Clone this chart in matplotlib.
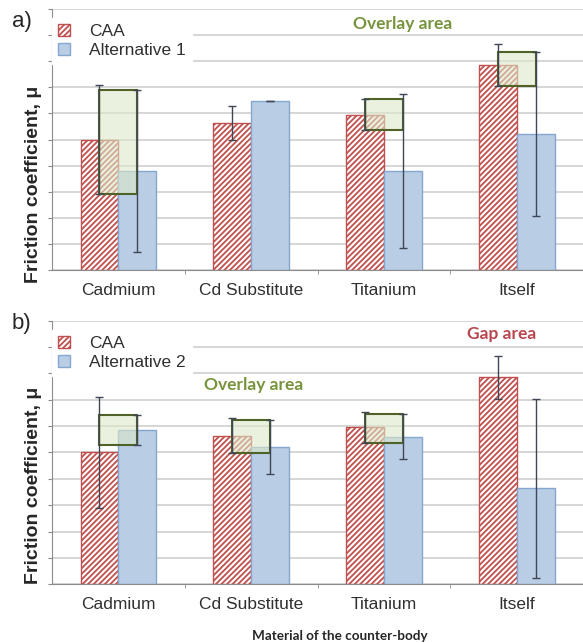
import matplotlib
matplotlib.use('Agg')
import matplotlib.pyplot as plt
import numpy as np
from matplotlib.patches import Rectangle

plt.rcParams['font.family'] = ['Liberation Sans', 'DejaVu Sans']
plt.rcParams['hatch.linewidth'] = 1.3

# data (grid units)
categories = ['Cadmium', 'Cd Substitute', 'Titanium', 'Itself']
caa_mean = [5.0, 5.64, 5.95, 7.85]
caa_err = [2.1, 0.65, 0.6, 0.81]
alt1_mean = [3.8, 6.47, 3.8, 5.2]
alt1_err = [3.1, 0.0, 2.95, 3.14]
alt2_mean = [5.85, 5.2, 5.6, 3.64]
alt2_err = [0.58, 1.03, 0.85, 3.4]

RED = '#c0504d'
BLUE_FACE = '#b9cde5'
BLUE_EDGE = '#85a6d0'
ERR = '#3f4756'
GRID = '#cfcfcf'
AXIS = '#8c8c8c'
W = 0.285


def draw_panel(ax, alt_mean, alt_err, alt_label):
    x = np.arange(len(categories))
    ax.bar(x - W / 2, caa_mean, W, facecolor='white', edgecolor=RED,
           hatch='//////', linewidth=1.0, label='CAA', zorder=2)
    ax.bar(x + W / 2, alt_mean, W, facecolor=BLUE_FACE, edgecolor=BLUE_EDGE,
           linewidth=1.0, label=alt_label, zorder=2)

    # overlay box between the two error ranges
    for i in range(len(categories)):
        lo = max(caa_mean[i] - caa_err[i], alt_mean[i] - alt_err[i])
        hi = min(caa_mean[i] + caa_err[i], alt_mean[i] + alt_err[i])
        if hi - lo > 0.05:
            ax.add_patch(Rectangle((x[i] - W / 2, lo), W, hi - lo,
                                   facecolor='#dde8c8', alpha=0.6,
                                   edgecolor='none', zorder=3))
            ax.add_patch(Rectangle((x[i] - W / 2, lo), W, hi - lo,
                                   facecolor='none', edgecolor='#4f6228',
                                   linewidth=1.5, zorder=4))

    ax.errorbar(x - W / 2, caa_mean, yerr=caa_err, fmt='none', ecolor=ERR,
                elinewidth=1.0, capsize=3, capthick=1.0, zorder=5)
    ax.errorbar(x + W / 2, alt_mean, yerr=alt_err, fmt='none', ecolor=ERR,
                elinewidth=1.0, capsize=3, capthick=1.0, zorder=5)

    ax.set_xlim(-0.5, 3.5)
    ax.set_ylim(0, 10)
    ax.set_yticks(np.arange(0, 11, 1))
    ax.set_yticklabels([])
    ax.grid(axis='y', color=GRID, linewidth=1.2, zorder=0)
    ax.set_axisbelow(True)
    ax.set_xticks(x)
    ax.set_xticklabels(categories, fontsize=12.5, color='#303030')
    ax.set_xticks([0.5, 1.5, 2.5], minor=True)
    ax.tick_params(axis='x', which='major', length=0, pad=9)
    ax.tick_params(axis='x', which='minor', length=3, color=AXIS)
    ax.tick_params(axis='y', length=3, color=AXIS)
    for s in ['top', 'right']:
        ax.spines[s].set_visible(False)
    for s in ['left', 'bottom']:
        ax.spines[s].set_color(AXIS)
    ax.set_ylabel('Friction coefficient, \u03bc', fontsize=14,
                  fontweight='bold', color='#262626')

    leg = ax.legend(loc='upper left', bbox_to_anchor=(0.0, 0.965),
                    fontsize=12.5, frameon=True, fancybox=False,
                    handlelength=0.7, handleheight=0.7, handletextpad=1.1,
                    borderpad=0.35, labelspacing=0.2, borderaxespad=0.0)
    leg.get_frame().set_edgecolor('white')
    leg.get_frame().set_facecolor('white')
    leg.get_frame().set_alpha(1.0)
    leg.set_zorder(6)
    for t in leg.get_texts():
        t.set_color('#303030')
    return ax


fig = plt.figure(figsize=(5.83, 6.43), dpi=100)
ax1 = fig.add_axes([0.0892, 0.580, 0.911, 0.406])
ax2 = fig.add_axes([0.0892, 0.0913, 0.911, 0.410])

draw_panel(ax1, alt1_mean, alt1_err, 'Alternative 1')
draw_panel(ax2, alt2_mean, alt2_err, 'Alternative 2')
ax1.yaxis.set_label_coords(-0.018, 0.328)
ax2.yaxis.set_label_coords(-0.018, 0.375)

ax1.text(2.14, 9.43, 'Overlay area', ha='center', va='center', fontsize=12.5,
         fontweight='bold', color='#77933c', family=['Lato', 'DejaVu Sans'],
         bbox=dict(facecolor='white', edgecolor='none', pad=1), zorder=6)
ax2.text(1.02, 7.56, 'Overlay area', ha='center', va='center', fontsize=12.5,
         fontweight='bold', color='#77933c', family=['Lato', 'DejaVu Sans'],
         bbox=dict(facecolor='white', edgecolor='none', pad=1), zorder=6)
ax2.text(2.89, 9.5, 'Gap area', ha='center', va='center', fontsize=12.5,
         fontweight='bold', color='#b8474f', family=['Lato', 'DejaVu Sans'],
         bbox=dict(facecolor='white', edgecolor='none', pad=2), zorder=6)

fig.text(22 / 583, 1 - 21 / 643, 'a)', fontsize=16, ha='center', va='center',
         color='#262626')
fig.text(21 / 583, 1 - 323 / 643, 'b)', fontsize=16, ha='center', va='center',
         color='#262626')
fig.text(340 / 583, 1 - 636 / 643, 'Material of the counter-body',
         fontsize=9.7, fontweight='bold', ha='center', va='center',
         color='#262626', family=['Lato', 'DejaVu Sans'])

fig.savefig('out.png', dpi=100)
